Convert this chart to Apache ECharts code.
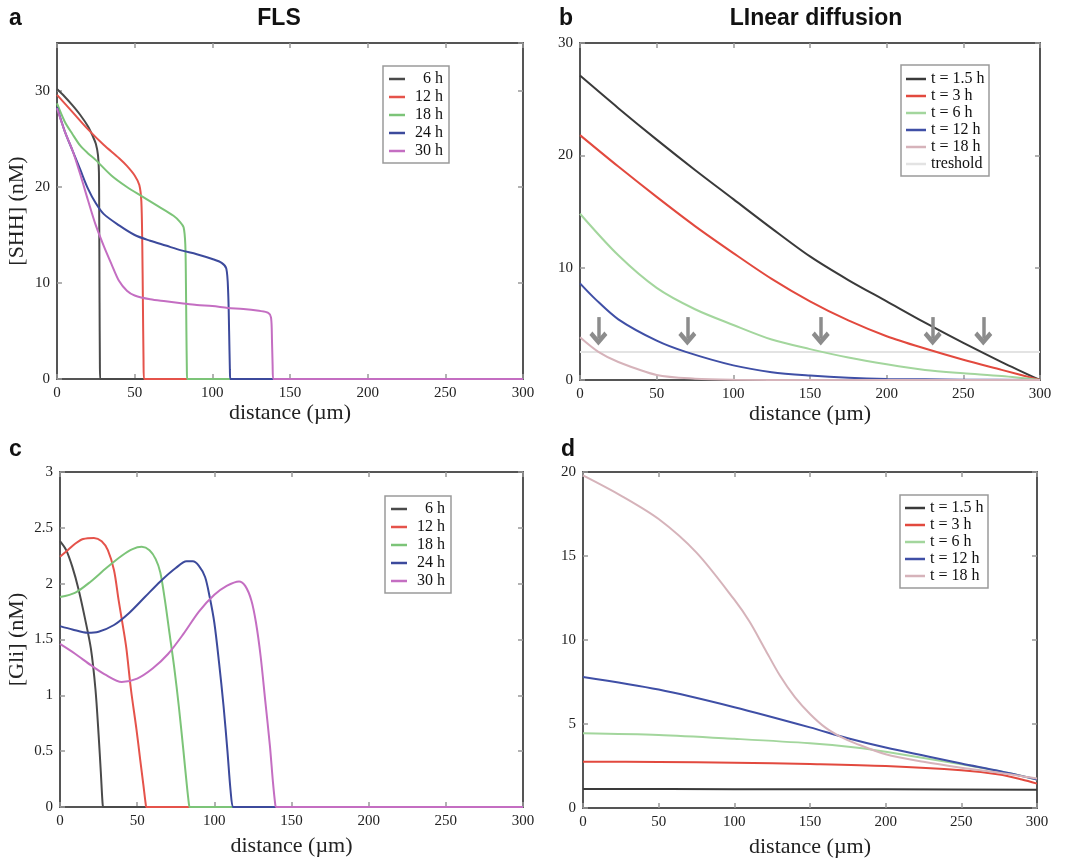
<!DOCTYPE html>
<html>
<head>
<meta charset="utf-8">
<script src="https://cdn.jsdelivr.net/npm/echarts@6/dist/echarts.min.js"></script>
<style>html,body{margin:0;padding:0;background:#fff}#c{width:1068px;height:861px}</style>
</head>
<body>
<div id="c"></div>
<script>
// ---------- Panel a: FLS, [SHH] (nM) ----------
const flsNames = ['6 h', '12 h', '18 h', '24 h', '30 h'];
const shh6 = [[0,30.2],[5,29.4],[10,28.5],[15,27.5],[20,26.3],[23,25.3],[25,24.5],[26.4,23.3],[27,21.5],[27.2,16],[27.4,8],[27.6,2],[27.8,0],[29,0],[300,0]];
const shh12 = [[0,29.6],[10,27.8],[20,26],[30,24.4],[40,23],[45,22.2],[50,21.2],[53,20.2],[54.3,18.5],[54.9,14],[55.3,8],[55.7,2],[56,0],[57,0],[300,0]];
const shh18 = [[0,28.7],[5,26.8],[10,25.5],[15,24.3],[20,23.5],[25,22.8],[35,21.2],[45,20],[55,19],[65,18],[75,17],[79,16.4],[81.5,15.8],[82.6,14],[83,10],[83.3,5],[83.6,1],[83.8,0],[85,0],[300,0]];
const shh24 = [[0,28.3],[5,25.8],[10,23.8],[15,21.8],[20,19.8],[25,18.3],[30,17.2],[40,16],[50,15],[60,14.4],[70,13.9],[80,13.4],[90,13],[100,12.5],[106,12.1],[109,11.5],[110.2,9],[110.8,5],[111.3,1],[111.6,0],[113,0],[300,0]];
const shh30 = [[0,28.2],[5,25.8],[10,23.8],[15,21.3],[20,18.6],[25,16],[30,13.9],[35,12],[40,10.2],[45,9.2],[50,8.7],[60,8.3],[70,8.1],[80,7.9],[90,7.7],[100,7.6],[110,7.4],[120,7.3],[130,7.1],[136,6.9],[137.8,6.4],[138.4,4],[138.8,1.5],[139.2,0],[140.5,0],[300,0]];

// ---------- Panel b: Linear diffusion, SHH ----------
const linNames = ['t = 1.5 h', 't = 3 h', 't = 6 h', 't = 12 h', 't = 18 h'];
const lin1_5 = [[0,27.1],[25,24.2],[50,21.4],[75,18.7],[100,16.1],[125,13.5],[150,11],[175,8.9],[200,7],[225,5.1],[250,3.3],[275,1.6],[300,0]];
const lin3 = [[0,21.8],[25,19],[50,16.3],[75,13.7],[100,11.3],[125,9.0],[150,7],[175,5.3],[200,3.9],[225,2.8],[250,1.8],[275,0.9],[300,0]];
const lin6 = [[0,14.8],[25,11.1],[50,8.2],[75,6.3],[100,4.9],[125,3.6],[150,2.75],[175,2.0],[200,1.4],[225,0.9],[250,0.6],[275,0.35],[300,0]];
const lin12 = [[0,8.6],[10,7.2],[25,5.4],[50,3.5],[69,2.5],[100,1.3],[125,0.7],[150,0.4],[175,0.2],[200,0.1],[250,0.03],[300,0]];
const lin18 = [[0,3.8],[12,2.5],[25,1.6],[50,0.45],[75,0.12],[100,0.03],[150,0],[300,0]];
const thresholdName = 'treshold';
const thresholdLine = [[0,2.5],[300,2.5]];
const arrowX = [12, 70, 157, 230, 263];
const arrowTop = 5.6, arrowHead = 3.7;

// ---------- Panel c: FLS, [Gli] (nM) ----------
const gli6 = [[0,2.38],[4,2.3],[8,2.15],[12,1.95],[16,1.7],[20,1.42],[23,1.05],[25,0.65],[26.5,0.3],[27.5,0.05],[28,0],[29,0],[300,0]];
const gli12 = [[0,2.24],[5,2.3],[10,2.36],[15,2.4],[22,2.41],[27,2.38],[31,2.3],[35,2.12],[38,1.85],[41,1.6],[43,1.42],[46,1.05],[49.5,0.7],[52,0.42],[54,0.2],[55.5,0.03],[56,0],[57,0],[300,0]];
const gli18 = [[0,1.88],[10,1.92],[20,2.02],[30,2.14],[40,2.25],[47,2.31],[53,2.33],[58,2.3],[62,2.22],[65,2.1],[68,1.85],[71,1.55],[74,1.25],[77,0.9],[80,0.5],[82,0.22],[83.5,0.03],[84,0],[85,0],[300,0]];
const gli24 = [[0,1.62],[8,1.59],[18,1.56],[25,1.57],[35,1.63],[45,1.74],[55,1.88],[65,2.02],[75,2.14],[82,2.2],[86,2.2],[90,2.16],[94,2.06],[97,1.88],[100,1.65],[103,1.3],[106,0.9],[108.5,0.5],[110.5,0.15],[112,0],[113,0],[300,0]];
const gli30 = [[0,1.46],[10,1.37],[20,1.27],[30,1.18],[40,1.12],[50,1.15],[60,1.24],[70,1.37],[80,1.55],[90,1.75],[100,1.9],[108,1.98],[116,2.02],[120,1.98],[124,1.85],[127,1.65],[130,1.35],[133,0.95],[136,0.55],[138,0.22],[139.5,0.02],[140,0],[141,0],[300,0]];

// ---------- Panel d: Linear diffusion, Gli ----------
const dl1_5 = [[0,1.13],[100,1.12],[200,1.11],[300,1.08]];
const dl3 = [[0,2.75],[50,2.74],[100,2.7],[150,2.62],[200,2.5],[250,2.25],[275,2.0],[290,1.7],[300,1.45]];
const dl6 = [[0,4.45],[50,4.35],[100,4.12],[150,3.85],[180,3.6],[200,3.35],[250,2.6],[280,2.1],[300,1.7]];
const dl12 = [[0,7.8],[50,7.05],[100,6.0],[150,4.8],[175,4.15],[200,3.6],[250,2.65],[275,2.2],[300,1.7]];
const dl18 = [[0,19.8],[25,18.6],[50,17.2],[75,15.2],[100,12.4],[110,11.1],[120,9.5],[130,7.9],[140,6.6],[150,5.6],[160,4.8],[170,4.25],[180,3.85],[200,3.2],[225,2.75],[250,2.4],[275,2.1],[300,1.75]];

// ---------- Tick / text ----------
const xLabel = 'distance (\u00b5m)';
const yLabelA = '[SHH] (nM)';
const yLabelC = '[Gli] (nM)';

const SERIF = 'Liberation Serif';
const SANS = 'Liberation Sans';
const flsColors = ['#4a4a4a', '#e5534b', '#7cc478', '#3c4a9c', '#c46ec2'];
const linColors = ['#3a3a3a', '#e2493e', '#a3d69d', '#3f4fa6', '#d6b3ba'];
const thrColor = '#e3e3e3';

const grids = [
  {left: 57, top: 43, width: 466, height: 336},
  {left: 580, top: 43, width: 460, height: 337},
  {left: 60, top: 472, width: 463, height: 335},
  {left: 583, top: 472, width: 454, height: 336}
];

const xAxes = [], yAxes = [];
function addAxes(gi, ymax, yint, yname, hideMax, nameGapY) {
  const line = {show: true, onZero: false, lineStyle: {color: '#555', width: 2}};
  const tick = {show: true, inside: true, length: 5, lineStyle: {color: '#999', width: 1.5}};
  xAxes.push({type: 'value', gridIndex: gi, min: 0, max: 300, interval: 50, position: 'bottom',
    axisLine: line, axisTick: tick, splitLine: {show: false},
    axisLabel: {margin: 7, fontFamily: SERIF, fontSize: 15, color: '#222'},
    name: xLabel, nameLocation: 'middle', nameGap: gi < 2 ? 23 : 28,
    nameTextStyle: {fontFamily: SERIF, fontSize: 22, color: '#222'}});
  xAxes.push({type: 'value', gridIndex: gi, min: 0, max: 300, interval: 50, position: 'top',
    axisLine: line, axisTick: tick, splitLine: {show: false}, axisLabel: {show: false}});
  const yl = {type: 'value', gridIndex: gi, min: 0, max: ymax, interval: yint, position: 'left',
    axisLine: line, axisTick: tick, splitLine: {show: false},
    axisLabel: {margin: 7, fontFamily: SERIF, fontSize: 15, color: '#222', showMaxLabel: !hideMax}};
  if (yname) {
    yl.name = yname; yl.nameLocation = 'middle'; yl.nameGap = nameGapY;
    yl.nameTextStyle = {fontFamily: SERIF, fontSize: 22, color: '#222'};
  }
  yAxes.push(yl);
  yAxes.push({type: 'value', gridIndex: gi, min: 0, max: ymax, interval: yint, position: 'right',
    axisLine: line, axisTick: tick, splitLine: {show: false}, axisLabel: {show: false}});
}
addAxes(0, 35, 10, yLabelA, true, 29);
addAxes(1, 30, 10, null, false, 0);
addAxes(2, 3, 0.5, yLabelC, false, 32);
addAxes(3, 20, 5, null, false, 0);

const series = [];
function addLine(gi, name, data, color, width) {
  series.push({type: 'line', name: name, xAxisIndex: 2 * gi, yAxisIndex: 2 * gi, data: data,
    symbol: 'none', showSymbol: false, smooth: 0.3, color: color,
    lineStyle: {color: color, width: width || 2}, z: 3});
}
[shh6, shh12, shh18, shh24, shh30].forEach((d, i) => addLine(0, flsNames[i], d, flsColors[i]));
const chevron = 'path://M9,0 L18,9 L15,12 L9,6 L3,12 L0,9 Z';
series.push({type: 'line', name: thresholdName, xAxisIndex: 2, yAxisIndex: 2, data: thresholdLine,
  symbol: 'none', color: thrColor, lineStyle: {color: thrColor, width: 2}, z: 2,
  markLine: {silent: true, symbol: ['none', chevron], symbolSize: [18, 14], label: {show: false},
    lineStyle: {color: '#8c8c8c', width: 3.5, type: 'solid', opacity: 1},
    data: arrowX.map(x => [{coord: [x, arrowTop]}, {coord: [x, arrowHead]}])}});
[lin1_5, lin3, lin6, lin12, lin18].forEach((d, i) => addLine(1, linNames[i], d, linColors[i]));
[gli6, gli12, gli18, gli24, gli30].forEach((d, i) => addLine(2, flsNames[i], d, flsColors[i]));
[dl1_5, dl3, dl6, dl12, dl18].forEach((d, i) => addLine(3, linNames[i], d, linColors[i]));

function legendCfg(left, top, names, width, lh, gap, iw, pad, rightAlign) {
  return {orient: 'vertical', left: left, top: top, padding: pad, itemGap: gap,
    itemWidth: iw, itemHeight: 2.5, icon: 'rect', borderColor: '#9a9a9a', borderWidth: 1.5,
    backgroundColor: '#fff', data: names, selectedMode: false,
    formatter: n => '{r|' + n + '}',
    textStyle: {fontFamily: SERIF, fontSize: 16, color: '#111', lineHeight: lh,
      rich: {r: {width: width, align: rightAlign ? 'right' : 'left', fontFamily: SERIF, fontSize: 16, lineHeight: lh, color: '#111'}}}};
}

const titleStyle = {fontFamily: SANS, fontSize: 23, fontWeight: 'bold', color: '#111'};
const option = {
  animation: false,
  backgroundColor: '#fff',
  title: [
    {text: 'a', left: 9, top: 7, padding: 0, textStyle: titleStyle},
    {text: 'FLS', left: 279, top: 7, padding: 0, textAlign: 'center', textStyle: titleStyle},
    {text: 'b', left: 559, top: 7, padding: 0, textStyle: titleStyle},
    {text: 'LInear diffusion', left: 816, top: 7, padding: 0, textAlign: 'center', textStyle: titleStyle},
    {text: 'c', left: 9, top: 438, padding: 0, textStyle: titleStyle},
    {text: 'd', left: 561, top: 438, padding: 0, textStyle: titleStyle}
  ],
  grid: grids,
  xAxis: xAxes,
  yAxis: yAxes,
  legend: [
    legendCfg(383, 66, flsNames, 33, 14, 2, 16, [5, 6, 4, 6], true),
    legendCfg(901, 65, linNames.concat([thresholdName]), 56, 13, 1, 20, [6, 2, 4, 5], false),
    legendCfg(385, 496, flsNames, 33, 14, 2, 16, [5, 6, 4, 6], true),
    legendCfg(900, 495, linNames, 56, 13, 1, 20, [5, 2, 4, 5], false)
  ],
  series: series
};
const chart = echarts.init(document.getElementById('c'), null, {renderer: 'canvas'});
chart.setOption(option);
</script>
</body>
</html>
